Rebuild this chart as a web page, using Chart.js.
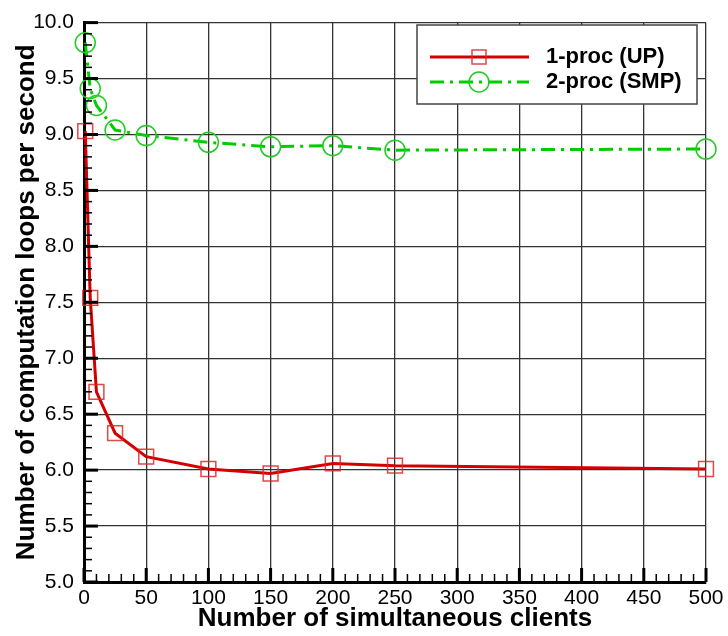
<!DOCTYPE html>
<html>
<head>
<meta charset="utf-8">
<script src="https://cdn.jsdelivr.net/npm/chart.js@4/dist/chart.umd.min.js"></script>
<style>
  body { margin: 0; background: #fff; }
  #wrap { width: 728px; height: 636px; }
</style>
</head>
<body>
<div id="wrap"><canvas id="myChart" width="728" height="636"></canvas></div>
<script>
// data
const clients = [1, 5, 10, 25, 50, 100, 150, 200, 250, 500];
const upLoops = [9.03, 7.54, 6.70, 6.33, 6.12, 6.01, 5.97, 6.06, 6.04, 6.01];
const smpLoops = [9.82, 9.41, 9.26, 9.04, 8.99, 8.93, 8.89, 8.90, 8.86, 8.87];
const seriesNames = ["1-proc (UP)", "2-proc (SMP)"];

const redLine = "#d40000";
const redMark = "rgba(220,40,40,0.85)";
const greenLine = "#00cc00";
const greenMark = "#22cc22";
const dashDot = [14, 6, 3, 6];
const fontFam = "'Liberation Sans', Arial, sans-serif";

function toPoints(xs, ys) {
    return xs.map((x, i) => ({ x: x, y: ys[i] }));
}

// inward tick marks, Tecplot style
const innerTicks = {
    id: "innerTicks",
    afterDatasetsDraw(chart) {
        const ctx = chart.ctx;
        const xs = chart.scales.x;
        const ys = chart.scales.y;
        const area = chart.chartArea;
        ctx.save();
        ctx.strokeStyle = "#000";
        for (let v = 0; v <= 500; v += 10) {
            const px = xs.getPixelForValue(v);
            const major = v % 50 === 0;
            ctx.lineWidth = major ? 3 : 1.5;
            ctx.beginPath();
            ctx.moveTo(px, area.bottom);
            ctx.lineTo(px, area.bottom - (major ? 14 : 8));
            ctx.stroke();
        }
        for (let k = 0; k <= 50; k++) {
            const v = 5 + k * 0.1;
            const py = ys.getPixelForValue(v);
            const major = k % 5 === 0;
            ctx.lineWidth = major ? 3 : 1.5;
            ctx.beginPath();
            ctx.moveTo(area.left, py);
            ctx.lineTo(area.left + (major ? 14 : 8), py);
            ctx.stroke();
        }
        ctx.restore();
    }
};

// legend box inside the plot
const boxLegend = {
    id: "boxLegend",
    afterDraw(chart) {
        const ctx = chart.ctx;
        ctx.save();
        ctx.fillStyle = "#fff";
        ctx.fillRect(417, 25, 280, 79);
        ctx.strokeStyle = "#444";
        ctx.lineWidth = 1.5;
        ctx.strokeRect(417, 25, 280, 79);

        ctx.lineWidth = 3;
        ctx.strokeStyle = redLine;
        ctx.beginPath(); ctx.moveTo(430, 57); ctx.lineTo(529, 57); ctx.stroke();
        ctx.lineWidth = 1.5;
        ctx.strokeStyle = redMark;
        ctx.strokeRect(472, 50, 14, 14);

        ctx.lineWidth = 3;
        ctx.strokeStyle = greenLine;
        ctx.setLineDash(dashDot);
        ctx.beginPath(); ctx.moveTo(430, 82); ctx.lineTo(529, 82); ctx.stroke();
        ctx.setLineDash([]);
        ctx.lineWidth = 1.5;
        ctx.strokeStyle = greenMark;
        ctx.beginPath(); ctx.arc(479, 82, 10, 0, Math.PI * 2); ctx.stroke();

        ctx.fillStyle = "#000";
        ctx.font = "bold 22px " + fontFam;
        ctx.textBaseline = "middle";
        ctx.fillText(seriesNames[0], 546, 57);
        ctx.fillText(seriesNames[1], 546, 82);
        ctx.restore();
    }
};

new Chart("myChart", {
    type: "line",
    data: {
        datasets: [{
            label: seriesNames[0],
            data: toPoints(clients, upLoops),
            borderColor: redLine,
            borderWidth: 3,
            pointStyle: "rect",
            pointRadius: 10.5,
            pointBorderColor: redMark,
            pointBorderWidth: 1.5,
            pointBackgroundColor: "rgba(0,0,0,0)",
            tension: 0,
            fill: false
        }, {
            label: seriesNames[1],
            data: toPoints(clients, smpLoops),
            borderColor: greenLine,
            borderWidth: 3,
            borderDash: dashDot,
            pointStyle: "circle",
            pointRadius: 10,
            pointBorderColor: greenMark,
            pointBorderWidth: 1.5,
            pointBackgroundColor: "rgba(0,0,0,0)",
            tension: 0,
            fill: false
        }]
    },
    options: {
        responsive: false,
        animation: false,
        clip: false,
        layout: { padding: { left: 8, right: 22, top: 19, bottom: 2 } },
        plugins: {
            legend: { display: false },
            tooltip: { enabled: false }
        },
        scales: {
            x: {
                type: "linear",
                min: 0,
                max: 500,
                afterFit(scale) { scale.height = 52; },
                ticks: {
                    stepSize: 50,
                    padding: 4,
                    color: "#000",
                    font: { family: fontFam, size: 21 }
                },
                grid: { color: "#333", lineWidth: 1.3, drawTicks: false },
                border: { display: true, color: "#000", width: 3 },
                title: {
                    display: true,
                    text: "Number of simultaneous clients",
                    color: "#000",
                    font: { family: fontFam, size: 26, weight: "bold" },
                    padding: { top: 0, bottom: 0 }
                }
            },
            y: {
                min: 5,
                max: 10,
                afterFit(scale) { scale.width = 76; },
                ticks: {
                    stepSize: 0.5,
                    padding: 10,
                    color: "#000",
                    font: { family: fontFam, size: 21 },
                    callback: v => v.toFixed(1)
                },
                grid: { color: "#333", lineWidth: 1.3, drawTicks: false },
                border: { display: true, color: "#000", width: 3 },
                title: {
                    display: true,
                    text: "Number of computation loops per second",
                    color: "#000",
                    font: { family: fontFam, size: 26, weight: "bold" },
                    padding: { top: 3, bottom: 0 }
                }
            }
        }
    },
    plugins: [innerTicks, boxLegend]
});
</script>
</body>
</html>
